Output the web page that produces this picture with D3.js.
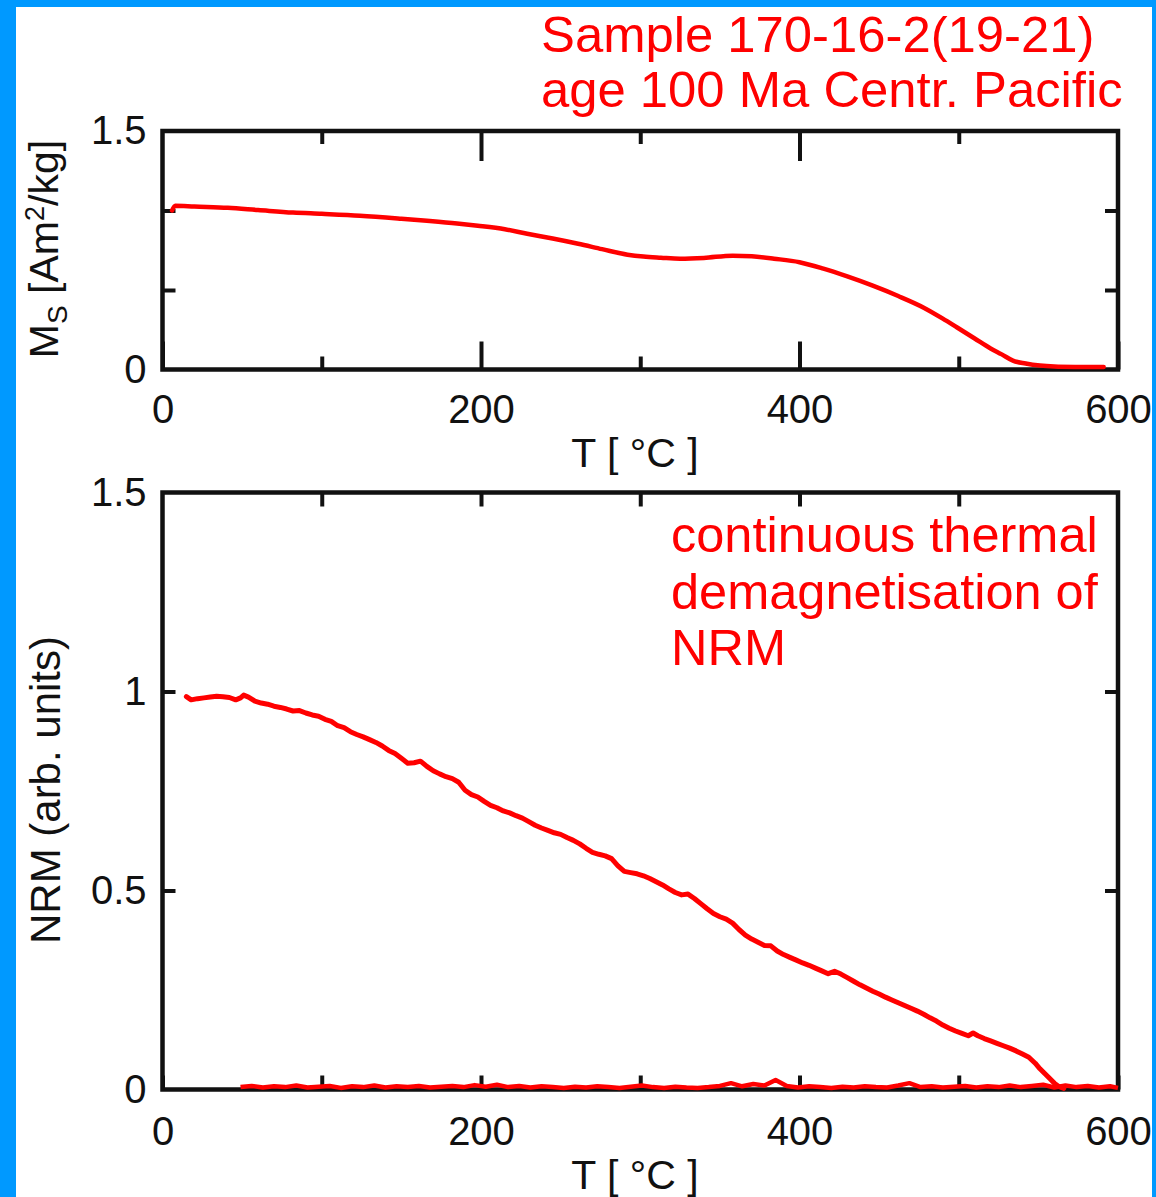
<!DOCTYPE html>
<html>
<head>
<meta charset="utf-8">
<script src="https://cdn.jsdelivr.net/npm/d3@7/dist/d3.min.js"></script>
<style>
  html, body { margin: 0; padding: 0; background: #fff; }
  svg { display: block; }
  text { font-family: "Liberation Sans", Arial, Helvetica, sans-serif; }
</style>
</head>
<body>
<svg id="chart" width="1156" height="1197"></svg>
<script>
// ---------- DATA ----------
// Top panel: saturation magnetisation Ms vs T
const msT = [6, 8, 20, 41, 60, 82, 100, 124, 150, 166, 185, 198, 215, 229, 245, 261, 276, 292, 302, 313, 325, 340, 358, 370, 384, 400, 415, 430, 446, 462, 478, 490, 499, 510, 520, 527, 534, 542, 551, 560, 575, 591];
const msV = [1.00, 1.03, 1.025, 1.017, 1.003, 0.987, 0.979, 0.967, 0.948, 0.935, 0.918, 0.904, 0.882, 0.854, 0.824, 0.791, 0.757, 0.722, 0.71, 0.703, 0.697, 0.702, 0.716, 0.712, 0.697, 0.675, 0.634, 0.585, 0.527, 0.462, 0.389, 0.32, 0.264, 0.195, 0.132, 0.095, 0.056, 0.038, 0.025, 0.019, 0.016, 0.015];

// Bottom panel: continuous thermal demagnetisation of NRM
const nrmT = [15, 18, 22, 26, 30, 34, 38, 42, 46, 49, 51, 54, 58, 62, 66, 70, 74, 78, 82, 86, 90, 94, 98, 102, 106, 110, 114, 118, 122, 126, 130, 134, 138, 142, 146, 150, 154, 158, 162, 166, 170, 174, 178, 182, 186, 190, 194, 198, 202, 206, 210, 214, 218, 222, 226, 230, 234, 238, 242, 246, 250, 254, 258, 262, 266, 270, 274, 278, 282, 286, 290, 294, 298, 302, 306, 310, 314, 318, 322, 326, 330, 334, 338, 342, 346, 350, 354, 358, 362, 366, 370, 374, 378, 382, 386, 390, 394, 398, 402, 406, 410, 414, 418, 422, 426, 430, 434, 438, 442, 446, 450, 454, 458, 462, 466, 470, 474, 478, 482, 486, 490, 494, 498, 502, 506, 509, 512, 516, 520, 524, 528, 532, 536, 540, 544, 548, 551, 554, 557, 560, 563, 566];
const nrmV = [0.987, 0.979, 0.982, 0.984, 0.986, 0.988, 0.987, 0.985, 0.979, 0.984, 0.991, 0.986, 0.976, 0.971, 0.968, 0.963, 0.960, 0.956, 0.951, 0.952, 0.946, 0.941, 0.938, 0.930, 0.925, 0.914, 0.909, 0.899, 0.892, 0.886, 0.879, 0.872, 0.863, 0.852, 0.844, 0.832, 0.820, 0.821, 0.825, 0.812, 0.801, 0.793, 0.786, 0.781, 0.772, 0.752, 0.741, 0.735, 0.724, 0.714, 0.708, 0.700, 0.695, 0.688, 0.682, 0.673, 0.664, 0.657, 0.651, 0.645, 0.641, 0.633, 0.626, 0.617, 0.606, 0.596, 0.591, 0.587, 0.580, 0.562, 0.548, 0.545, 0.542, 0.537, 0.530, 0.522, 0.514, 0.504, 0.495, 0.489, 0.491, 0.480, 0.467, 0.454, 0.442, 0.434, 0.428, 0.418, 0.402, 0.388, 0.378, 0.370, 0.362, 0.361, 0.348, 0.339, 0.332, 0.325, 0.318, 0.312, 0.305, 0.298, 0.291, 0.297, 0.290, 0.281, 0.272, 0.263, 0.255, 0.247, 0.240, 0.232, 0.225, 0.218, 0.211, 0.204, 0.197, 0.189, 0.180, 0.172, 0.162, 0.154, 0.147, 0.141, 0.135, 0.142, 0.135, 0.128, 0.122, 0.116, 0.110, 0.104, 0.097, 0.089, 0.081, 0.066, 0.052, 0.040, 0.028, 0.016, 0.007, 0.003];

// Bottom panel: near-zero baseline series
const zeroT = [49, 56, 63, 70, 77, 84, 91, 98, 105, 112, 119, 126, 133, 140, 147, 154, 161, 168, 175, 182, 189, 196, 203, 210, 217, 224, 231, 238, 245, 252, 259, 266, 273, 280, 287, 294, 301, 308, 315, 322, 329, 336, 343, 350, 357, 364, 371, 378, 385, 392, 399, 406, 413, 420, 427, 434, 441, 448, 455, 462, 469, 476, 483, 490, 497, 504, 511, 518, 525, 532, 539, 546, 553, 560, 567, 574, 581, 588, 595, 600];
const zeroV = [0.006, 0.009, 0.005, 0.008, 0.006, 0.010, 0.005, 0.007, 0.009, 0.004, 0.008, 0.006, 0.010, 0.005, 0.008, 0.006, 0.009, 0.005, 0.007, 0.009, 0.006, 0.011, 0.007, 0.012, 0.006, 0.009, 0.005, 0.008, 0.006, 0.004, 0.007, 0.005, 0.008, 0.006, 0.004, 0.007, 0.010, 0.006, 0.004, 0.007, 0.005, 0.004, 0.006, 0.009, 0.016, 0.008, 0.014, 0.010, 0.024, 0.009, 0.005, 0.008, 0.006, 0.004, 0.007, 0.005, 0.008, 0.006, 0.005, 0.010, 0.016, 0.006, 0.008, 0.005, 0.007, 0.009, 0.005, 0.008, 0.006, 0.010, 0.006, 0.009, 0.012, 0.005, 0.010, 0.006, 0.009, 0.005, 0.008, 0.004];

// Ticks / labels
const xLabelTicks = [0, 200, 400, 600];
const xMinorTicks = [100, 300, 500];
const topYLabelTicks = [0, 1.5];
const topYMinorTicks = [0.5, 1];
const botYLabelTicks = [0, 0.5, 1, 1.5];
const botYInnerTicks = [0.5, 1];

const titleLines = ["Sample 170-16-2(19-21)", "age 100 Ma Centr. Pacific"];
const noteLines = ["continuous thermal", "demagnetisation of", "NRM"];
const xTitle = "T [ °C ]";

// ---------- DRAW ----------
const svg = d3.select("#chart");
const RED = "#ff0000";
const INK = "#111";
const L = 162.5, R = 1118;
const x = d3.scaleLinear().domain([0, 600]).range([L, R]);
const yTop = d3.scaleLinear().domain([0, 1.5]).range([369.5, 131]);
const yBot = d3.scaleLinear().domain([0, 1.5]).range([1089.5, 492.5]);

svg.append("rect").attr("width", 1156).attr("height", 1197).attr("fill", "#fff");

function styleAxis(g, labelSize) {
  g.select(".domain").remove();
  g.selectAll(".tick line").attr("stroke", INK).attr("stroke-width", 4);
  g.selectAll(".tick text").attr("fill", INK).style("font-size", labelSize + "px")
    .style("font-family", '"Liberation Sans", Arial, Helvetica, sans-serif');
}

function panel(y, top, bottom, opts) {
  const gB = svg.append("g").attr("transform", `translate(0,${bottom})`);
  gB.call(d3.axisBottom(x).tickValues(xLabelTicks).tickSize(-opts.xMajorLen).tickPadding(opts.xPad).tickFormat(d3.format("d")));
  styleAxis(gB, 40);
  const gBm = svg.append("g").attr("transform", `translate(0,${bottom})`);
  gBm.call(d3.axisBottom(x).tickValues(xMinorTicks).tickSize(-opts.xMinorLen).tickFormat(""));
  styleAxis(gBm, 40);
  const gT = svg.append("g").attr("transform", `translate(0,${top})`);
  gT.call(d3.axisTop(x).tickValues([200, 400]).tickSize(-opts.xMajorLenTop).tickFormat(""));
  styleAxis(gT, 40);
  const gTm = svg.append("g").attr("transform", `translate(0,${top})`);
  gTm.call(d3.axisTop(x).tickValues(xMinorTicks).tickSize(-opts.xMinorLen).tickFormat(""));
  styleAxis(gTm, 40);
  const gL = svg.append("g").attr("transform", `translate(${L},0)`);
  gL.call(d3.axisLeft(y).tickValues(opts.yLabels).tickSize(0).tickPadding(16).tickFormat(d => d3.format("")(d)));
  styleAxis(gL, 40);
  const gLm = svg.append("g").attr("transform", `translate(${L},0)`);
  gLm.call(d3.axisLeft(y).tickValues(opts.yInner).tickSize(-13).tickFormat(""));
  styleAxis(gLm, 40);
  const gR = svg.append("g").attr("transform", `translate(${R},0)`);
  gR.call(d3.axisRight(y).tickValues(opts.yInner).tickSize(-13).tickFormat(""));
  styleAxis(gR, 40);
  svg.append("rect").attr("x", L).attr("y", top).attr("width", R - L).attr("height", bottom - top)
    .attr("fill", "none").attr("stroke", INK).attr("stroke-width", 4.5);
  svg.append("text").attr("x", 635).attr("y", opts.xTitleY).attr("text-anchor", "middle")
    .attr("fill", INK).style("font-size", "41px").text(xTitle);
}

panel(yTop, 131, 369.5, { xMajorLen: 28, xMajorLenTop: 30, xMinorLen: 13, xPad: 25,
  yLabels: topYLabelTicks, yInner: topYMinorTicks, xTitleY: 467 });
panel(yBot, 492.5, 1089.5, { xMajorLen: 14, xMajorLenTop: 14, xMinorLen: 14, xPad: 27,
  yLabels: botYLabelTicks, yInner: botYInnerTicks, xTitleY: 1189 });

// Y titles
const t1 = svg.append("text").attr("transform", "translate(58,249) rotate(-90)")
  .attr("text-anchor", "middle").attr("fill", INK).style("font-size", "41px");
t1.append("tspan").text("M");
t1.append("tspan").attr("dy", 9).style("font-size", "28px").text("S");
t1.append("tspan").attr("dy", -9).text(" [Am");
t1.append("tspan").attr("dy", -14).style("font-size", "27px").text("2");
t1.append("tspan").attr("dy", 14).text("/kg]");

svg.append("text").attr("transform", "translate(60,790) rotate(-90)")
  .attr("text-anchor", "middle").attr("fill", INK).style("font-size", "42px")
  .text("NRM (arb. units)");

// Curves
const msData = msT.map((t, i) => [t, msV[i]]);
svg.append("path").datum(msData)
  .attr("d", d3.line().x(d => x(d[0])).y(d => yTop(d[1])).curve(d3.curveMonotoneX))
  .attr("fill", "none").attr("stroke", RED).attr("stroke-width", 4.5)
  .attr("stroke-linecap", "round").attr("stroke-linejoin", "round");

const zeroData = zeroT.map((t, i) => [t, zeroV[i]]);
svg.append("path").datum(zeroData)
  .attr("d", d3.line().x(d => x(d[0])).y(d => yBot(d[1])))
  .attr("fill", "none").attr("stroke", RED).attr("stroke-width", 4.5)
  .attr("stroke-linejoin", "round");

const nrmData = nrmT.map((t, i) => [t, nrmV[i]]);
svg.append("path").datum(nrmData)
  .attr("d", d3.line().x(d => x(d[0])).y(d => yBot(d[1])))
  .attr("fill", "none").attr("stroke", RED).attr("stroke-width", 5)
  .attr("stroke-linecap", "round").attr("stroke-linejoin", "round");

// Red annotations
titleLines.forEach((s, i) => {
  svg.append("text").attr("x", 541).attr("y", 52 + i * 55).attr("fill", RED)
    .style("font-size", "50.8px").text(s);
});
noteLines.forEach((s, i) => {
  svg.append("text").attr("x", 671).attr("y", 552 + i * 56.5).attr("fill", RED)
    .style("font-size", "50.5px").text(s);
});

// Blue frame
const BLUE = "#0099ff";
svg.append("rect").attr("x", 0).attr("y", 0).attr("width", 16).attr("height", 1197).attr("fill", BLUE);
svg.append("rect").attr("x", 0).attr("y", 0).attr("width", 1156).attr("height", 7).attr("fill", BLUE);
svg.append("rect").attr("x", 1152).attr("y", 0).attr("width", 4).attr("height", 1197).attr("fill", BLUE);
</script>
</body>
</html>
